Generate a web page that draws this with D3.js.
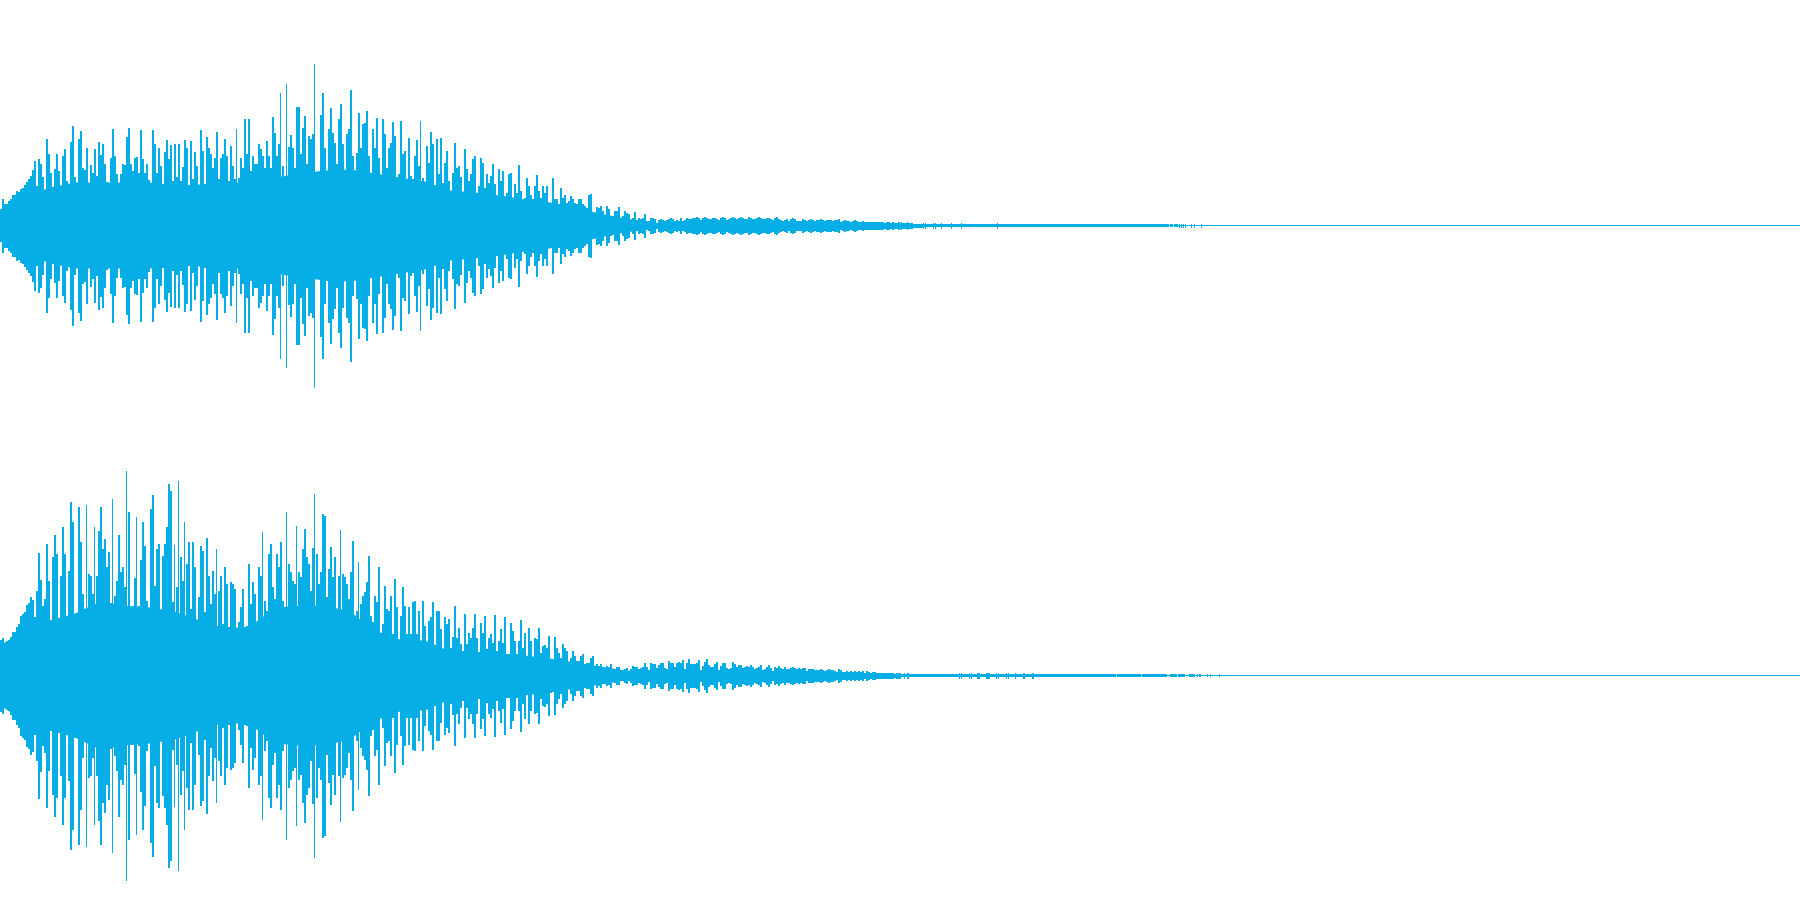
<!DOCTYPE html>
<html>
<head>
<meta charset="utf-8">
<script src="https://cdnjs.cloudflare.com/ajax/libs/d3/7.8.5/d3.min.js"></script>
<style>html,body{margin:0;padding:0;background:#fff;overflow:hidden}svg{display:block}</style>
</head>
<body>
<svg id="chart" width="1800" height="900"></svg>
<script>
// Peak amplitude per 2-sample column; full scale is 225.
const ch1Early = [16,27,22,22,25,27,31,31,35,34,37,38,41,44,47,50,56,65,40,67,62,49,32,87,72,53,24,57,72,55,22,70,77,45,29,84,100,49,38,87,95,58,56,78,42,61,53,77,50,84,71,82,62,44,31,68,97,70,52,42,52,62,61,89,98,62,55,68,69,53,96,67,53,62,46,24,96,82,53,78,60,42,74,86,67,81,45,82,49,82,45,59,86,78,35,85,47,74,60,27,96,75,42,89,78,72,58,68,94,47,68,72,87,70,45,80,60,47,97,48,68,58,107,72,107,55,70,62,62,82,77,70,58,85,70,58,109,93,70,82,133,60,43,142,79,91,78,58,119,119,72,98,110,62,90,87,92,162,35,52,111,133,78,55,97,118,93,83,62,107,122,82,55,92,97,136,70,27,73,113,78,102,103,115,70,52,97,78,108,68,40,107,92,58,78,83,104,90,29,52,105,72,75,37,88,50,47,70,86,60,105,48,20,80,63,94,82,28,87,52,88,43,63,75,45];
const ch1Late = [25,53,83,58,60,49,32,77,57,45,52,67,70,32,40,68,63,38,52,43,50,62,42,30,57,45,55,25,33,52,53,23,42,33,61,35,22,28,48,40,31,27,40,51,35,28,40,33,40,20,13,48,27,27,22,38,28,31,23,25,30,27,23,22,27,27,22,20,18,31,32,10,12,19,18,20,15,10,20,17,10,8,15,15,19,3,10,15,13,12,5,8,14,5,8,7,8,12,3,5,8,8,7,3,6,7,6,5,6,7,8,7,5,6,5,8,5,6,8,7,7,8,8,9,8,6,8,9,8,7,7,8,8,7,6,8,9,8,6,7,8,9,8,7,8,9,8,7,7,9,8,7,7,8,9,8,7,7,8,8,7,6,8,9,7,6,5,6,7,5,7,8,7,5,5,5,7,6,5,6,7,6,5,6,6,7,6,5,6,6,6,5,6,6,7,4,5,6,5,5,4,5,6,5,4,4,5,4,4,4,4,4,4,4,4,4,4,3,4,4,3,4,3,3,4];
const ch2Early = [36,38,31,32,35,39,44,44,49,52,60,62,64,71,73,79,76,59,85,123,96,70,77,132,95,55,119,141,122,54,100,149,122,47,105,174,154,62,57,169,134,82,65,171,102,100,82,149,100,145,169,127,137,109,124,73,177,80,95,141,104,109,89,205,164,47,60,98,159,70,116,154,130,75,45,167,181,90,127,132,65,120,132,149,192,185,74,131,89,195,119,95,154,112,134,67,134,109,45,79,130,125,64,138,100,72,105,82,127,85,100,52,109,92,49,94,92,87,40,54,69,87,49,50,112,72,94,82,52,109,100,144,75,65,122,132,89,77,122,109,134,75,59,164,112,104,95,92,150,104,99,127,147,119,112,85,128,182,122,92,104,162,160,79,107,129,99,119,59,100,146,102,99,92,77,104,135,30,65,114,72,80,84,94,120,60,54,80,74,109,42,52,90,67,65,80,42,97,69,22,60,89,70,42,69,42,74,75,42,65,24,75,50,25,55,59,74,30,65,65,47,22,59,52,57];
const ch2Late = [28,39,70,38,48,32,25,62,32,43,38,48,62,38,20,53,43,60,27,38,42,33,61,25,35,47,33,59,22,22,53,45,35,22,35,56,28,43,18,48,35,15,38,37,48,23,30,31,28,40,17,13,39,28,23,18,32,28,25,12,18,25,20,15,15,20,22,12,13,13,18,20,8,12,10,12,7,8,10,9,12,4,7,9,9,3,5,7,8,5,7,10,9,9,7,8,9,13,9,6,13,12,12,8,11,13,13,8,7,15,13,13,9,13,14,13,16,7,13,17,12,12,12,13,16,6,10,14,17,11,9,9,12,14,6,10,13,13,8,7,8,14,12,9,11,11,8,9,10,9,11,9,7,8,9,11,6,7,9,11,8,5,9,8,10,8,7,9,7,7,8,9,8,7,8,7,8,8,5,7,7,7,6,6,6,7,6,5,6,7,6,6,5,4,7,6,4,4,5,4,5,4,5,4,5,4,5,3,5,4,3,4,4,3,3,3,3,3,3,3,3,3,2,3,3];

// Solid core of each channel below the individual peaks, read every 25 samples.
const ch1Core = [16,28,38,43,43,43,43,40,41,43,43,48,52,55,56,52,48,44,35,33,30,26,23,18,12,7,4];
const ch2Core = [30,46,55,62,74,70,68,64,55,47,49,68,70,70,64,45,36,35,24,24,21,20,17,13,9,5,4];
const coreStep = 25;

// Faint tail: low-level band and isolated clicks that remain above the noise floor.
const ch1BandStart = [900,913,923,1170,1174];
const ch1BandEnd   = [913,923,1169,1173,1178];
const ch1BandAmp   = [3,2,1.5,1.5,1.5];
const ch1Clicks = [901,904,907,923,925,933,935,941,951,961,997,1179,1181,1183,1185,1191,1194,1201];
const ch1ClickAmp = [4,3,4,3,3,3,3,3,3,3,3,2,2,2,2,2,2,2];
const ch2BandStart = [900,1117,1142,1170,1178,1189,1199];
const ch2BandEnd   = [1116,1141,1167,1177,1185,1195,1201];
const ch2BandAmp   = [1.5,1.5,1.5,1.5,1.5,1.5,1.5];
const ch2Clicks = [900,904,907,908,959,961,969,971,977,978,979,986,987,988,989,996,998,1006,1008,1015,1023,1024,1032,1033,1197,1207,1210,1219];
const ch2ClickAmp = [3,3,3,3,3,3,3,3,3,3,3,3,3,3,3,3,3,3,3,3,3,3,3,3,1.5,1.5,1.5,1.5];

const timeExtent = [0, 1800];
const earlyStart = 0, lateStart = 450, columnStep = 2;
const waveColor = "#06aee5";

const svg = d3.select("#chart");
const x = d3.scaleLinear().domain(timeExtent).range([0, 1800]);
const channels = [
  {early: ch1Early, late: ch1Late, core: ch1Core, bs: ch1BandStart, be: ch1BandEnd, ba: ch1BandAmp, c: ch1Clicks, ca: ch1ClickAmp,
   y: d3.scaleLinear().domain([225, -225]).range([0.5, 450.5])},
  {early: ch2Early, late: ch2Late, core: ch2Core, bs: ch2BandStart, be: ch2BandEnd, ba: ch2BandAmp, c: ch2Clicks, ca: ch2ClickAmp,
   y: d3.scaleLinear().domain([225, -225]).range([450.5, 900.5])}
];

channels.forEach(ch => {
  const g = svg.append("g").attr("fill", waveColor);
  const y = ch.y;
  const area = d3.area().x((d, i) => x(i * coreStep)).y0(d => y(-d)).y1(d => y(d));
  g.append("path").attr("d", area(ch.core));

  // A peak that towers over both neighbours is a one-sample spike, so it is drawn narrow.
  const toCols = (arr, start) => arr.map((a, i) => {
    const spike = a - Math.max(arr[i - 1] ?? 0, arr[i + 1] ?? 0) > 40;
    return {t: start + i * columnStep, w: spike ? 1 : columnStep, a};
  });
  const cols = [
    ...toCols(ch.early, earlyStart),
    ...toCols(ch.late, lateStart),
    ...ch.bs.map((t, i) => ({t, w: ch.be[i] - t, a: ch.ba[i]})),
    ...ch.c.map((t, i) => ({t, w: 1, a: ch.ca[i]}))
  ];
  g.append("g").attr("shape-rendering", "crispEdges")
    .selectAll("rect").data(cols).join("rect")
    .attr("x", d => x(d.t))
    .attr("width", d => x(d.t + d.w) - x(d.t))
    .attr("y", d => y(d.a))
    .attr("height", d => y(-d.a) - y(d.a));
  g.append("rect").attr("shape-rendering", "crispEdges")
    .attr("x", x(timeExtent[0])).attr("width", x(timeExtent[1]) - x(timeExtent[0]))
    .attr("y", y(0) - 0.5).attr("height", 1);
});
</script>
</body>
</html>
